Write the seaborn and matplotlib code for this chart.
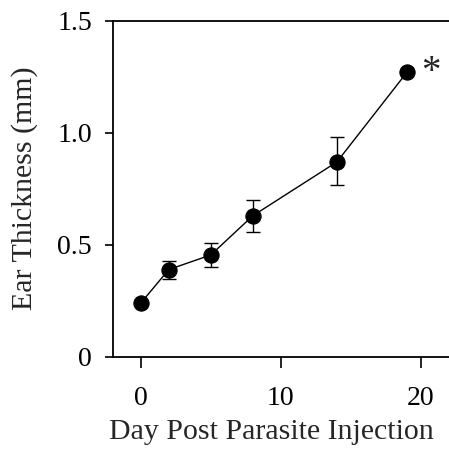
import matplotlib
matplotlib.use("Agg")
import matplotlib.pyplot as plt
import seaborn as sns
import numpy as np
import pandas as pd

days = [0, 2, 5, 8, 14, 19]
thickness = [0.24, 0.39, 0.455, 0.63, 0.87, 1.27]
err_low = [0.0, 0.04, 0.055, 0.073, 0.105, 0.0]
err_high = [0.0, 0.04, 0.055, 0.07, 0.11, 0.0]
x_ticks = [0, 10, 20]
y_ticks = [0, 0.5, 1.0, 1.5]
y_tick_labels = ["0", "0.5", "1.0", "1.5"]

sns.set_theme(style="ticks")
plt.rcParams['font.family'] = ['Liberation Serif', 'DejaVu Serif']

fig = plt.figure(figsize=(4.49, 4.53), dpi=100)
ax = fig.add_axes([112.7 / 449, (453 - 357) / 453, 1 - 112.7 / 449, (357 - 20.7) / 453])

df = pd.DataFrame({"day": days, "thick": thickness})
ax.errorbar(days, thickness, yerr=[err_low, err_high], fmt='none', ecolor='black',
            elinewidth=1.0, capsize=5, capthick=1.0, zorder=2)
sns.lineplot(data=df, x="day", y="thick", ax=ax, color='black', linewidth=1.0,
             marker='o', markersize=11, markerfacecolor='black', markeredgecolor='black', zorder=3)
ax.text(days[-1] + 1.0, thickness[-1] + 0.0, "*", fontsize=28, ha='left', va='center')

ax.set_xlim(-2, 22)
ax.set_ylim(0, 1.5)
ax.set_xticks(x_ticks)
ax.set_yticks(y_ticks)
ax.set_yticklabels(y_tick_labels)
ax.tick_params(axis='both', labelsize=20, colors='black', width=1.2)
ax.tick_params(axis='x', length=8, pad=13)
ax.tick_params(axis='y', length=6, pad=9)
for s in ['left', 'bottom', 'top']:
    ax.spines[s].set_visible(True)
    ax.spines[s].set_linewidth(1.3)
    ax.spines[s].set_color('black')
ax.spines['right'].set_visible(False)

ax.set_xlabel("Day Post Parasite Injection", fontsize=21.5)
ax.set_ylabel("Ear Thickness (mm)", fontsize=21.5)
ax.xaxis.set_label_coords((271.5 - 112.7) / (449 - 112.7), (357 - 419) / (357 - 20.7))
ax.yaxis.set_label_coords((38 - 112.7) / (449 - 112.7), (357 - 188) / (357 - 20.7))

fig.savefig("out.png", dpi=100)
